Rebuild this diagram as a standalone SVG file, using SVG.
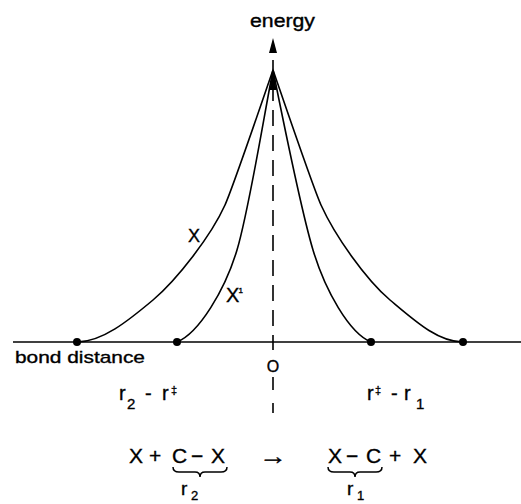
<svg xmlns="http://www.w3.org/2000/svg" width="521" height="504" viewBox="0 0 521 504">
<style>
  .t { font-family: "Liberation Sans", Arial, sans-serif; fill: #000; stroke: #000; stroke-width: 0.35; }
  .curve { fill: none; stroke: #000; stroke-width: 1.6; stroke-linejoin: round; }
  .axis { fill: none; stroke: #000; stroke-width: 1.6; }
  .dash { fill: none; stroke: #000; stroke-width: 1.6; stroke-dasharray: 16 9; }
  .brace { fill: none; stroke: #000; stroke-width: 1.5; }
  .dot { fill: #000; }
</style>
<rect width="521" height="504" fill="#fff"/>
<g id="axes">
  <line class="axis" x1="13" y1="342" x2="521" y2="342"/>
  <line class="dash" x1="273" y1="60" x2="273" y2="350"/>
  <polygon points="273,38 269,53 277,53" fill="#000"/>
  <line class="axis" x1="273" y1="377" x2="273" y2="390"/>
  <line class="axis" x1="273" y1="403" x2="273" y2="413"/>
</g>
<g id="connectors">
  <path id="curve-X-left" class="curve" d="M77,342 C102,342 128,321 153,300 C177,279.6 211,236 225,205 C233,187.4 265,93 273,70"/>
  <path id="curve-X1-left" class="curve" d="M177,342 C199,333 225,290 237,250 C249,210 265,110 273,70"/>
  <path id="curve-X-right" class="curve" d="M463,342 C438,342 415,321 390,300 C366,279.6 335,236 321,205 C313,187.4 281,93 273,70"/>
  <path id="curve-X1-right" class="curve" d="M371,342 C349,333 325,290 313,250 C301,210 281,110 273,70"/>
  <polygon points="273,68 269.5,90 276.5,90" fill="#000"/>
</g>
<g id="points">
  <circle class="dot" cx="77" cy="342" r="4"/>
  <circle class="dot" cx="177" cy="342" r="4"/>
  <circle class="dot" cx="371" cy="342" r="4"/>
  <circle class="dot" cx="463" cy="342" r="4"/>
</g>
<g id="labels">
  <text class="t" x="250" y="27" font-size="18" textLength="65" lengthAdjust="spacingAndGlyphs">energy</text>
  <text class="t" x="15" y="363" font-size="17" textLength="130" lengthAdjust="spacingAndGlyphs">bond distance</text>
  <text class="t" x="273" y="372" font-size="16" text-anchor="middle">O</text>
  <text class="t" x="188" y="242" font-size="18">X</text>
  <text class="t" x="226" y="302" font-size="20">X</text>
  <text class="t" x="238.5" y="293" font-size="8">1</text>
  <text class="t" font-size="20"><tspan x="119" y="400">r</tspan><tspan x="127" y="409" font-size="15">2</tspan><tspan x="145" y="400">-</tspan><tspan x="162" y="400">r</tspan><tspan x="171" y="394" font-size="11">‡</tspan></text>
  <text class="t" font-size="20"><tspan x="367" y="400">r</tspan><tspan x="375" y="394" font-size="11">‡</tspan><tspan x="391" y="400">-</tspan><tspan x="404" y="400">r</tspan><tspan x="416" y="409" font-size="15">1</tspan></text>
</g>
<g id="equation">
  <text class="t" font-size="21"><tspan x="129" y="463">X</tspan><tspan x="149" y="463">+</tspan><tspan x="172" y="463">C</tspan><tspan x="191" y="463">−</tspan><tspan x="211" y="463">X</tspan></text>
  <text class="t" font-size="24"><tspan x="259" y="464" textLength="28" lengthAdjust="spacingAndGlyphs">→</tspan></text>
  <text class="t" font-size="21"><tspan x="328" y="463">X</tspan><tspan x="346" y="463">−</tspan><tspan x="366" y="463">C</tspan><tspan x="389" y="463">+</tspan><tspan x="413" y="463">X</tspan></text>
  <path class="brace" d="M173,467 Q173,472 179,472 L195,472 Q200,472 200,477 Q200,472 205,472 L221,472 Q227,472 227,467"/>
  <path class="brace" d="M328,467 Q328,472 334,472 L350,472 Q355,472 355,477 Q355,472 360,472 L376,472 Q382,472 382,467"/>
  <text class="t" font-size="19"><tspan x="181" y="495">r</tspan><tspan x="191" y="500" font-size="13">2</tspan></text>
  <text class="t" font-size="19"><tspan x="347" y="495">r</tspan><tspan x="357" y="500" font-size="13">1</tspan></text>
</g>
</svg>
